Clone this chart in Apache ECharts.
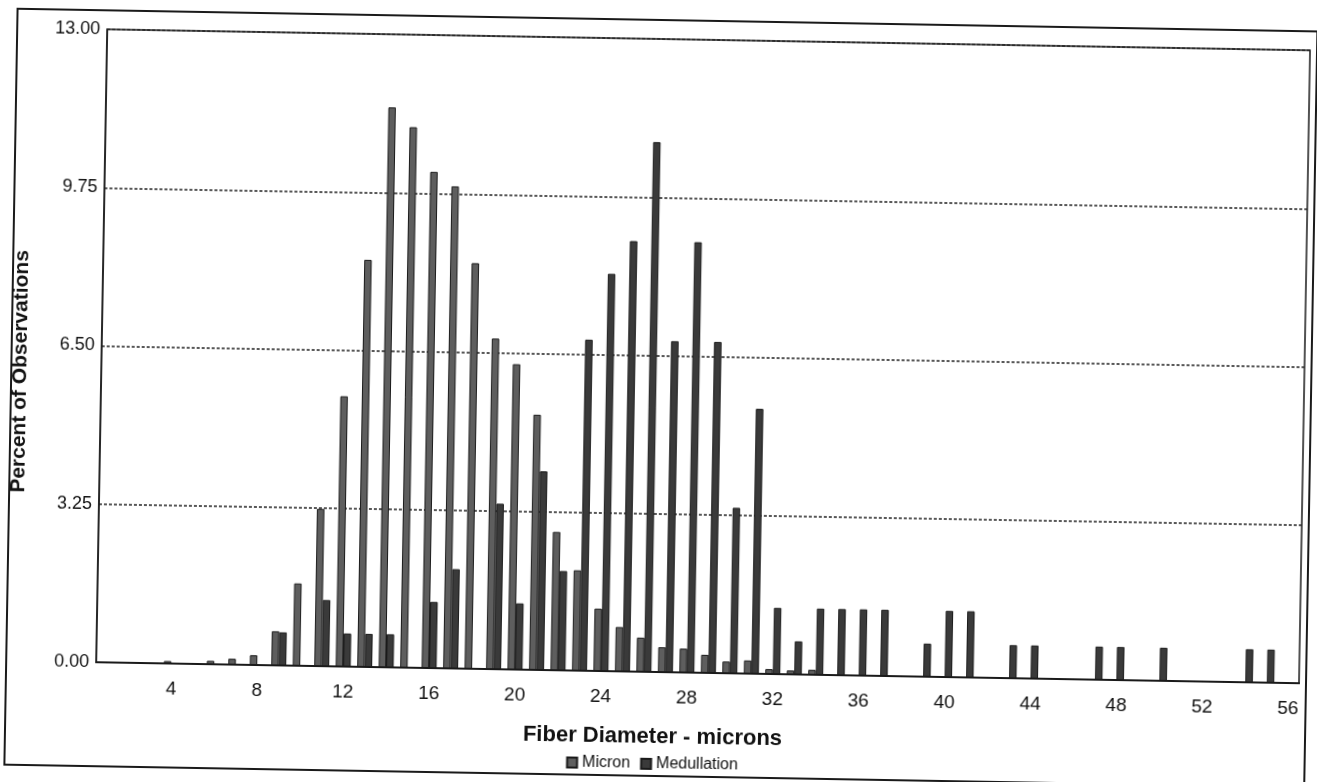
<!DOCTYPE html>
<html>
<head>
<meta charset="utf-8">
<script src="https://cdn.jsdelivr.net/npm/echarts@6/dist/echarts.min.js"></script>
<style>
  html, body { margin: 0; padding: 0; background: #ffffff; overflow: hidden; }
  #chart { position: absolute; left: 0; top: 0; width: 1317px; height: 782px;
           transform: rotate(1deg); transform-origin: 50% 50%; }
</style>
</head>
<body>
<div id="chart"></div>
<script>
// Fiber diameter classes (microns)
const categories = ['1','2','3','4','5','6','7','8','9','10','11','12','13','14','15','16','17','18','19','20',
  '21','22','23','24','25','26','27','28','29','30','31','32','33','34','35','36','37','38','39','40',
  '41','42','43','44','45','46','47','48','49','50','51','52','53','54','55','56'];

// Tick labels shown on the x axis
const xTickLabels = ['4','8','12','16','20','24','28','32','36','40','44','48','52','56'];

// Percent of observations - Micron
const micron = [0, 0, 0, 0.05, 0.02, 0.07, 0.12, 0.20, 0.70, 1.69,
  3.23, 5.55, 8.36, 11.50, 11.10, 10.19, 9.90, 8.33, 6.79, 6.27,
  5.24, 2.84, 2.06, 1.28, 0.91, 0.70, 0.51, 0.49, 0.37, 0.24,
  0.27, 0.10, 0.08, 0.10, 0, 0, 0, 0, 0, 0,
  0, 0, 0, 0, 0, 0, 0, 0, 0, 0,
  0, 0, 0, 0, 0, 0];

// Percent of observations - Medullation
const medullation = [0, 0, 0, 0, 0, 0, 0, 0, 0.68, 0,
  1.36, 0.68, 0.68, 0.68, 0, 1.36, 2.04, 0, 3.40, 1.36,
  4.08, 2.04, 6.80, 8.16, 8.84, 10.88, 6.80, 8.84, 6.80, 3.40,
  5.44, 1.36, 0.68, 1.36, 1.36, 1.36, 1.36, 0, 0.68, 1.36,
  1.36, 0, 0.68, 0.68, 0, 0, 0.68, 0.68, 0, 0.68,
  0, 0, 0, 0.68, 0.68, 0];

// Y axis ticks
const yMin = 0, yMax = 13, yStep = 3.25;

const FONT = '"Liberation Sans", Arial, sans-serif';
const chart = echarts.init(document.getElementById('chart'), null, { renderer: 'canvas' });

chart.setOption({
  backgroundColor: '#ffffff',
  animation: false,
  textStyle: { fontFamily: FONT, color: '#111111' },
  graphic: [{
    type: 'rect',
    shape: { x: 11, y: 20, width: 1300, height: 756 },
    style: { fill: 'none', stroke: '#1a1a1a', lineWidth: 2 },
    silent: true,
    z: -1
  }],
  legend: {
    top: 756,
    left: 'center',
    itemWidth: 10,
    itemHeight: 10,
    itemGap: 10,
    icon: 'rect',
    padding: 0,
    textStyle: { fontFamily: FONT, fontSize: 16, color: '#111111' },
    data: ['Micron', 'Medullation']
  },
  grid: {
    left: 101, right: 13, top: 39, bottom: 110,
    show: true, borderColor: '#1a1a1a', borderWidth: 1.5,
    containLabel: false
  },
  xAxis: {
    type: 'category',
    data: categories,
    name: 'Fiber Diameter - microns',
    nameLocation: 'middle',
    nameGap: 54,
    nameTextStyle: { fontFamily: FONT, fontSize: 22, fontWeight: 'bold', color: '#111111', padding: [0, 88, 0, 0] },
    axisLine: { show: true, lineStyle: { color: '#1a1a1a', width: 2 } },
    axisTick: { show: false },
    axisLabel: {
      interval: (idx, val) => xTickLabels.indexOf(val) >= 0,
      margin: 16,
      fontSize: 19,
      fontFamily: FONT,
      color: '#111111'
    },
    splitLine: { show: false }
  },
  yAxis: {
    type: 'value',
    min: yMin, max: yMax, interval: yStep,
    name: 'Percent of Observations',
    nameLocation: 'middle',
    nameGap: 70,
    nameTextStyle: { fontFamily: FONT, fontSize: 21, fontWeight: 'bold', color: '#111111', padding: [0, 54, 0, 0] },
    axisLine: { show: true, lineStyle: { color: '#1a1a1a', width: 1.5 } },
    axisTick: { show: false },
    axisLabel: {
      margin: 7,
      fontSize: 18,
      fontFamily: FONT,
      color: '#111111',
      formatter: v => v.toFixed(2)
    },
    splitLine: { show: true, lineStyle: { color: '#222222', width: 1.5, type: [3, 2] } }
  },
  series: [
    {
      name: 'Micron',
      type: 'bar',
      data: micron,
      barWidth: 7.5,
      barGap: '0%',
      itemStyle: { color: '#5e5e5e', borderColor: '#1a1a1a', borderWidth: 1 }
    },
    {
      name: 'Medullation',
      type: 'bar',
      data: medullation,
      barWidth: 7.5,
      barGap: '0%',
      itemStyle: { color: '#3a3a3a', borderColor: '#1a1a1a', borderWidth: 1 }
    }
  ]
});
</script>
</body>
</html>
